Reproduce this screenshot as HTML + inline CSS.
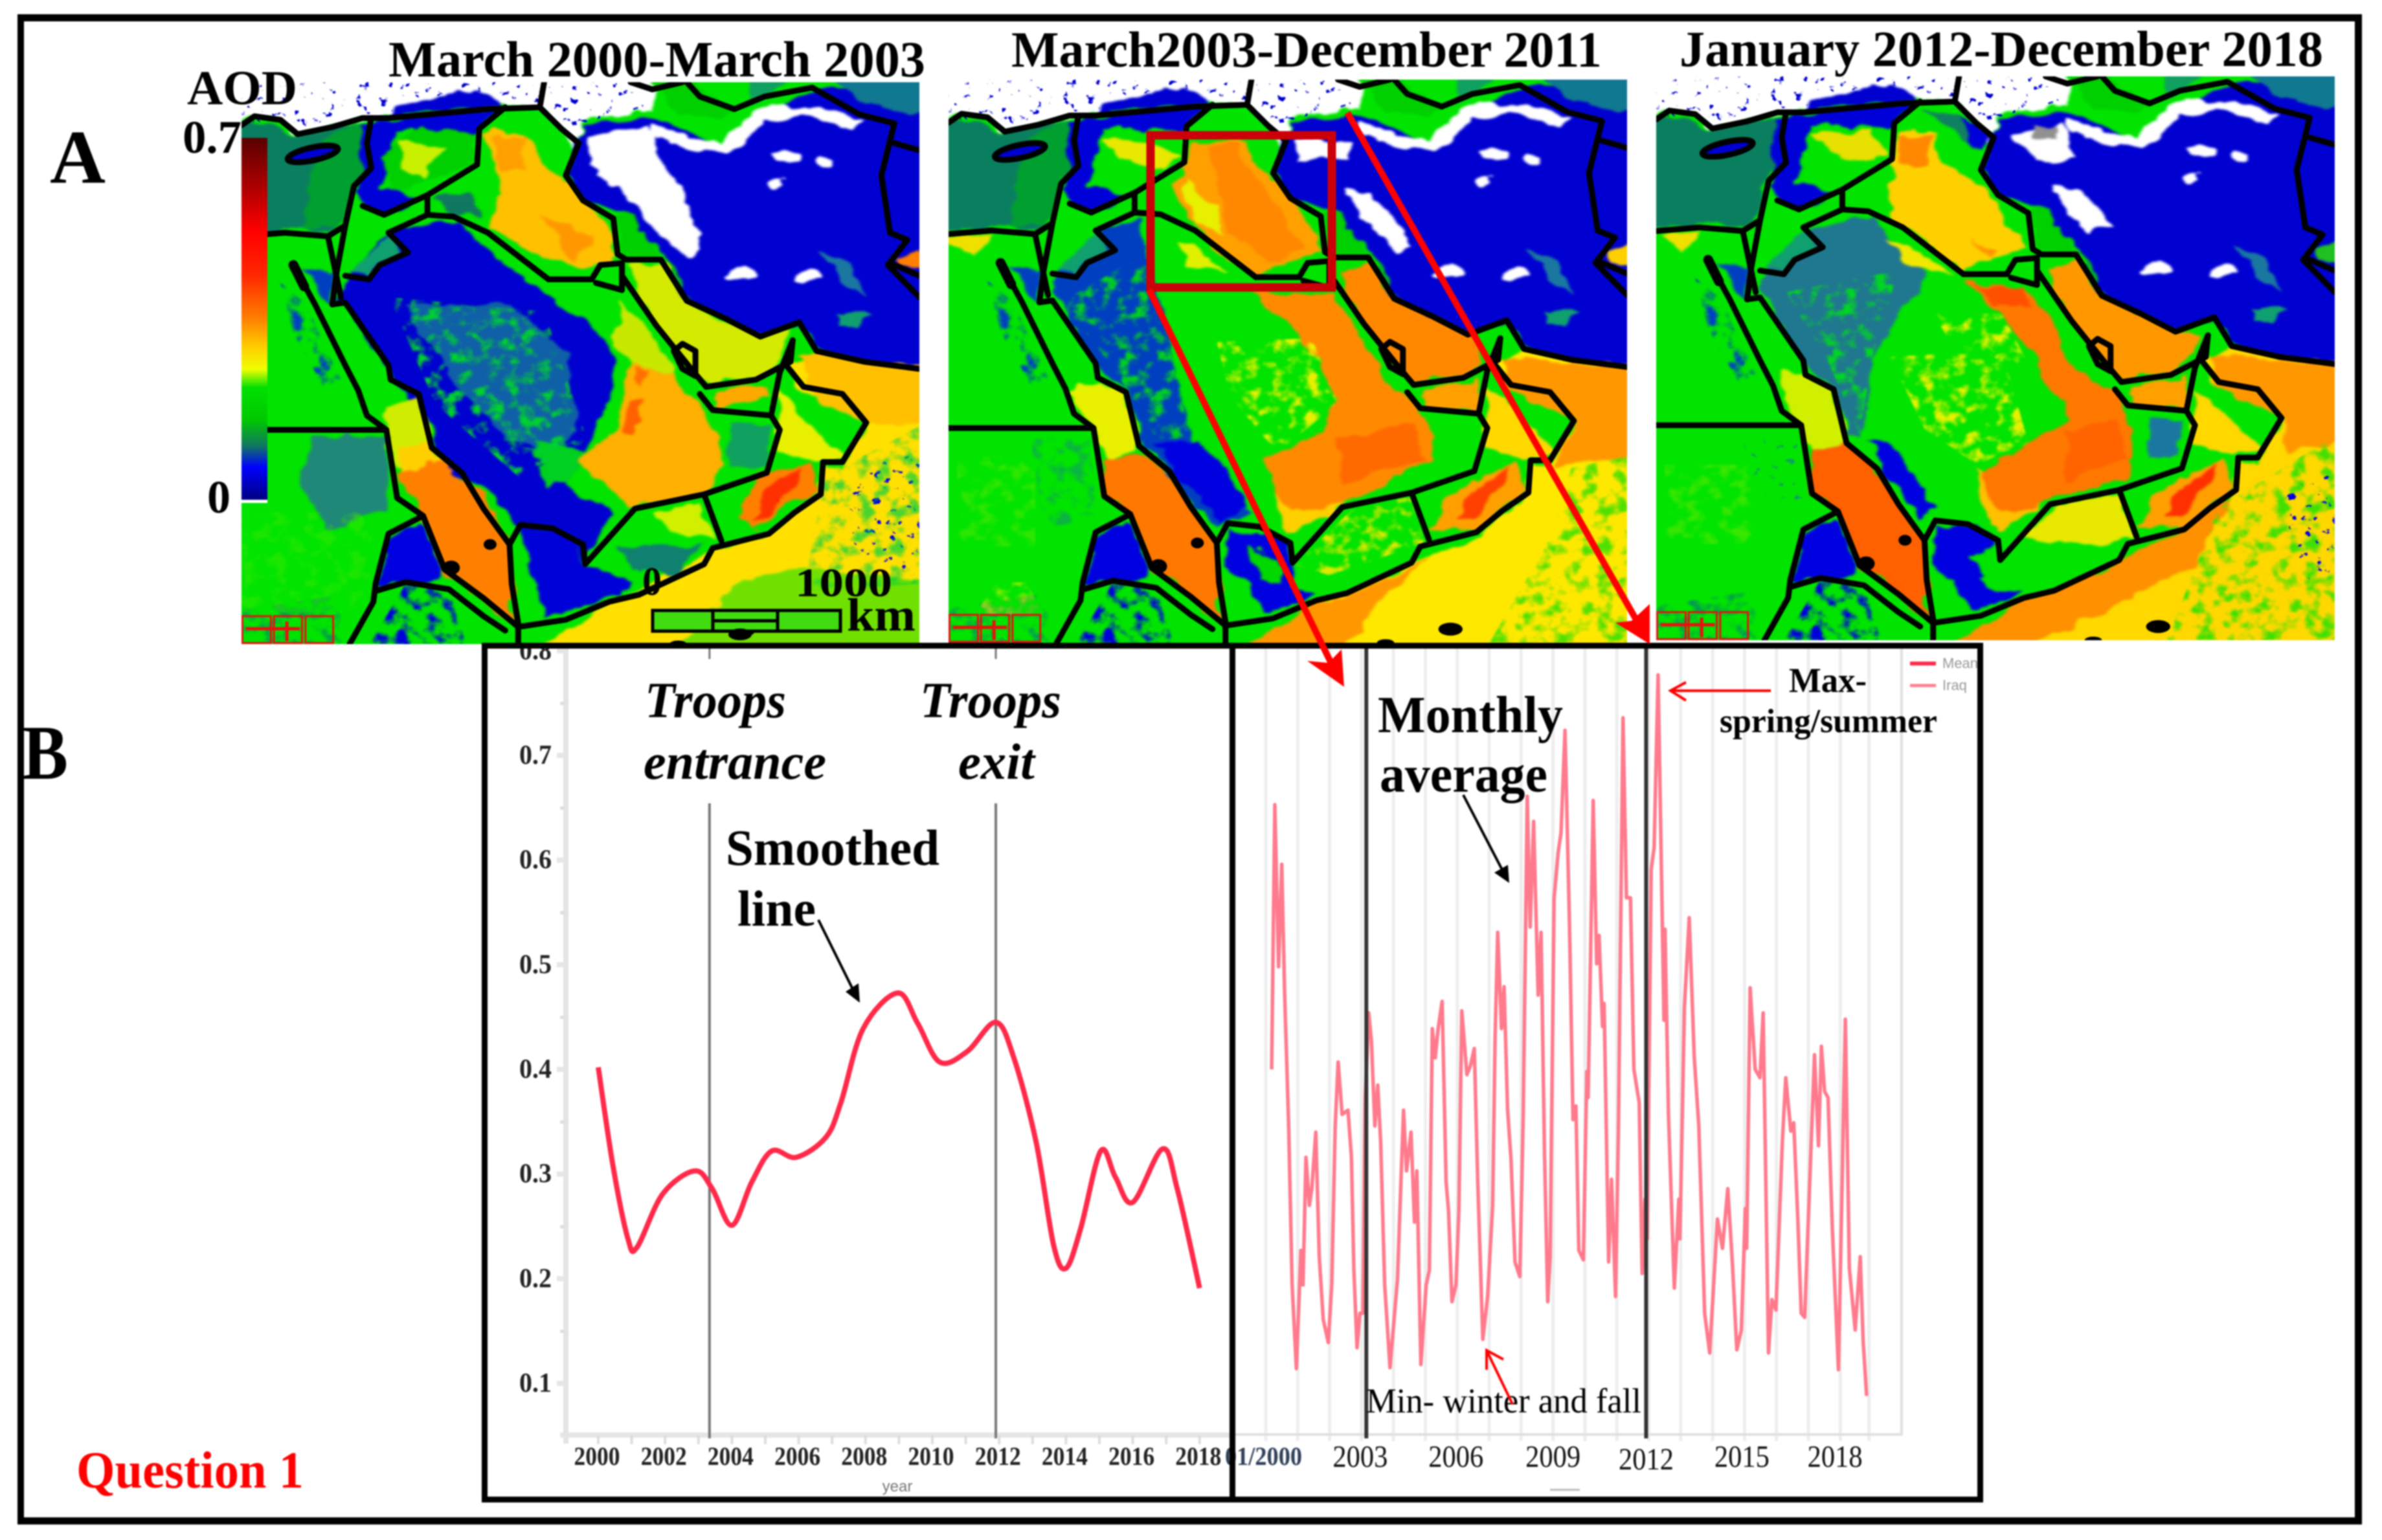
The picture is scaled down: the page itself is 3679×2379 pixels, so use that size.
<!DOCTYPE html>
<html>
<head>
<meta charset="utf-8">
<title>AOD maps and time series</title>
<style>
html,body{margin:0;padding:0;background:#fff;}
svg#fig{display:block;filter:blur(1px);}
text{font-family:"Liberation Serif",serif;}
</style>
</head>
<body>
<svg id="fig" xmlns="http://www.w3.org/2000/svg" width="3679" height="2379" viewBox="0 0 3679 2379">
<defs>
  <filter id="organic" x="-5%" y="-5%" width="110%" height="110%" color-interpolation-filters="sRGB">
    <feTurbulence type="fractalNoise" baseFrequency=".016" numOctaves="3" seed="3" result="n"/>
    <feDisplacementMap in="SourceGraphic" in2="n" scale="42" xChannelSelector="R" yChannelSelector="G"/>
    <feGaussianBlur stdDeviation="3"/>
  </filter>
  <filter id="mottle" x="-5%" y="-5%" width="110%" height="110%" color-interpolation-filters="sRGB">
    <feTurbulence type="fractalNoise" baseFrequency=".028" numOctaves="3" seed="8" result="n"/>
    <feColorMatrix in="n" type="matrix" values="0 0 0 0 0  0 0 0 0 0  0 0 0 0 0  0 4 0 0 -1.9" result="mask"/>
    <feComposite in="SourceGraphic" in2="mask" operator="in"/>
    <feGaussianBlur stdDeviation="2"/>
  </filter>
  <filter id="speck" x="-5%" y="-5%" width="110%" height="110%" color-interpolation-filters="sRGB">
    <feTurbulence type="fractalNoise" baseFrequency=".05" numOctaves="3" seed="21" result="n"/>
    <feColorMatrix in="n" type="matrix" values="0 0 0 0 0  0 0 0 0 0  0 0 0 0 0  0 12 0 0 -8" result="mask"/>
    <feComposite in="SourceGraphic" in2="mask" operator="in"/>
  </filter>
  <linearGradient id="cbar" x1="0" y1="0" x2="0" y2="1">
    <stop offset="0" stop-color="#5a0000"/><stop offset=".14" stop-color="#b00000"/><stop offset=".26" stop-color="#ff0000"/>
    <stop offset=".38" stop-color="#ff2800"/><stop offset=".5" stop-color="#ff8000"/><stop offset=".58" stop-color="#ffd000"/>
    <stop offset=".64" stop-color="#f0ff00"/><stop offset=".69" stop-color="#00e000"/><stop offset=".78" stop-color="#00c800"/>
    <stop offset=".85" stop-color="#107860"/><stop offset=".91" stop-color="#0000ff"/><stop offset="1" stop-color="#000080"/>
  </linearGradient>

  <g id="map-base">
    <rect x="-60" y="-60" width="1700" height="1700" fill="#00e400"/>
    <polygon fill="#0a7f60" points="-40,130 60,110 130,150 210,130 280,110 285,230 240,310 225,400 200,420 100,415 -40,420"/>
    <polygon fill="#ffffff" points="-60,-60 950,-60 950,70 800,110 770,190 740,130 690,70 570,60 340,90 280,100 210,125 130,145 90,105 30,95 -60,130"/>
    <polygon fill="#0000d0" points="440,40 490,15 580,40 600,70 340,95 350,70"/>
    <polygon fill="#0000d8" points="280,110 600,75 545,130 360,140 320,300 420,320 320,370 270,340"/>
    <polygon fill="#0000d0" points="770,190 800,120 950,90 1030,140 1120,190 1210,100 1260,60 1330,20 1640,50 1640,810 1440,780 1330,750 1290,670 1200,710 1120,660 1030,610 960,470 890,370 790,330 750,260"/>
    <polygon fill="#00d000" points="860,370 900,370 960,480 1000,520 1040,610 970,495 890,490"/>
    <polygon fill="#00d000" points="930,-40 1040,-40 1070,40 1140,75 1100,100 1000,80"/>
    <polygon fill="#10a060" points="1170,-40 1320,-40 1210,40 1170,70"/>
    <polygon fill="#107890" points="1330,-40 1640,-40 1640,90 1440,60"/>
    <polygon fill="#ffffff" points="950,115 1040,160 1110,175 1170,100 1240,60 1330,70 1445,100 1400,125 1290,85 1220,110 1120,205 1040,188 950,150"/>
    <polygon fill="#1a78a0" points="1350,470 1400,500 1440,590 1390,560"/>
    <polygon fill="#10a070" points="1370,640 1470,650 1430,680 1380,680"/>
    <polygon fill="#0000e0" points="340,1270 410,1225 470,1380 390,1390 320,1400"/>
    <ellipse fill="#ffffff" cx="1260" cy="210" rx="30" ry="20"/>
    <ellipse fill="#ffffff" cx="1350" cy="225" rx="24" ry="12"/>
    <ellipse fill="#ffffff" cx="1240" cy="280" rx="14" ry="14"/>
    <ellipse fill="#ffffff" cx="1150" cy="535" rx="42" ry="15"/>
    <ellipse fill="#ffffff" cx="1310" cy="545" rx="32" ry="11"/>
  </g>

  <g id="map-mottle-common">
    <polygon fill="#0000d0" points="-40,-40 690,-40 690,55 340,85 130,130 -40,110" filter="url(#speck)"/>
    <polygon fill="#0000d0" points="720,-40 930,-40 930,70 800,110 750,130 700,60" filter="url(#speck)"/>
    <polygon fill="#0040c0" points="90,560 150,620 230,830 190,850 120,700" filter="url(#mottle)"/>
    <polygon fill="#0000d8" points="380,1400 480,1420 520,1568 360,1600 300,1560" filter="url(#mottle)"/>
    <polygon fill="#0030c8" points="-40,1480 230,1430 230,1600 -40,1600" filter="url(#mottle)" opacity=".4"/>
  </g>

  <g id="map-borders" fill="none" stroke="#000" stroke-width="9" stroke-linejoin="round" stroke-linecap="round">
    <polyline vector-effect="non-scaling-stroke" points="0,120 30,95 90,105 130,145 210,125 280,100 340,100 570,75 690,70 700,0"/>
    <polyline vector-effect="non-scaling-stroke" points="690,70 740,130 780,170 750,260 790,330 860,380 870,480 890,495 970,495 1030,610 1120,660 1200,710 1290,670 1330,750 1440,780 1568,800"/>
    <polyline vector-effect="non-scaling-stroke" points="1275,720 1270,780 1190,830 1075,850 1040,800 960,680 880,540"/>
    <polyline vector-effect="non-scaling-stroke" points="710,550 810,550 830,510 880,505 880,580 820,560"/>
    <polyline vector-effect="non-scaling-stroke" points="430,370 490,375 570,420 710,550"/>
    <polyline vector-effect="non-scaling-stroke" points="610,70 550,130 545,230 430,315 330,370 280,345"/>
    <polyline vector-effect="non-scaling-stroke" points="430,315 430,370 340,420 385,475 320,510 295,550 240,540"/>
    <polyline vector-effect="non-scaling-stroke" points="300,100 290,170 300,240 260,290 240,400 200,430 100,420 0,430"/>
    <polyline vector-effect="non-scaling-stroke" points="240,400 220,530 210,620"/>
    <polyline vector-effect="non-scaling-stroke" points="200,430 230,600"/>
    <polyline vector-effect="non-scaling-stroke" points="120,510 170,620 240,790 270,860 290,930 335,970 360,1160 420,1210 470,1360 560,1440 640,1520 640,1568"/>
    <polyline vector-effect="non-scaling-stroke" points="120,510 145,570" stroke-width="15"/>
    <polyline vector-effect="non-scaling-stroke" points="0,970 335,970"/>
    <polyline vector-effect="non-scaling-stroke" points="420,1210 340,1260 310,1400 305,1450 250,1568"/>
    <polyline vector-effect="non-scaling-stroke" points="310,1420 380,1395 480,1415 560,1490 610,1530"/>
    <polyline vector-effect="non-scaling-stroke" points="210,620 240,615 340,790 345,830 410,870 440,1020 510,1090 560,1190 620,1290 625,1400 640,1510"/>
    <polyline vector-effect="non-scaling-stroke" points="620,1290 645,1235 720,1245 790,1290 795,1345 910,1190 1070,1150 1215,1090 1245,970 1225,930 1090,915 1060,870"/>
    <polyline vector-effect="non-scaling-stroke" points="1070,1150 1110,1280"/>
    <polyline vector-effect="non-scaling-stroke" points="640,1520 750,1500 850,1450 920,1430 1070,1345 1090,1300 1220,1260 1280,1200 1340,1150 1345,1060 1390,1060 1445,950 1390,870 1300,850 1260,790"/>
    <polyline vector-effect="non-scaling-stroke" points="1225,930 1245,810 1275,720"/>
    <polyline vector-effect="non-scaling-stroke" points="1020,730 1050,750 1050,820 1020,800 1000,750 1020,730"/>
    <polyline vector-effect="non-scaling-stroke" points="1030,0 1060,40 1140,75 1210,40 1320,15 1430,90 1510,115 1480,260 1500,420 1540,440 1495,510 1568,600"/>
    <polyline vector-effect="non-scaling-stroke" points="1510,170 1568,190"/>
    <polyline vector-effect="non-scaling-stroke" points="1510,510 1568,540"/>
    <polyline vector-effect="non-scaling-stroke" points="900,0 950,20 1020,0"/>
    <ellipse vector-effect="non-scaling-stroke" cx="165" cy="200" rx="60" ry="18" transform="rotate(-15 165 200)" fill="#0000d0"/>
    <ellipse cx="575" cy="1290" rx="15" ry="15" fill="#000" stroke="none"/>
    <ellipse cx="485" cy="1355" rx="20" ry="20" fill="#000" stroke="none"/>
    <ellipse cx="1160" cy="1530" rx="28" ry="18" fill="#000" stroke="none"/>
    <ellipse cx="1010" cy="1568" rx="20" ry="10" fill="#000" stroke="none"/>
  </g>

  <g id="map-legend-grid" fill="none" stroke="#e81010" stroke-width="3">
    <rect vector-effect="non-scaling-stroke" x="2" y="1490" width="66" height="75"/>
    <rect vector-effect="non-scaling-stroke" x="75" y="1490" width="65" height="75"/>
    <rect vector-effect="non-scaling-stroke" x="148" y="1490" width="64" height="75"/>
    <line vector-effect="non-scaling-stroke" x1="10" y1="1525" x2="135" y2="1525" stroke-width="5"/>
    <line vector-effect="non-scaling-stroke" x1="105" y1="1505" x2="105" y2="1560" stroke-width="5"/>
  </g>
</defs>

<rect x="0" y="0" width="3679" height="2379" fill="#fff"/>

<g id="left-chart"></g>
<g id="right-chart"></g>

<!-- MAP 1 -->
<svg x="373" y="127" width="1047" height="868" viewBox="0 0 1568 1568" preserveAspectRatio="none">
  <g filter="url(#organic)">
    <use href="#map-base"/>
    <polygon fill="#00a030" points="200,150 280,110 285,240 225,400 150,420 150,300"/>
    <polygon fill="#ffffff" points="800,150 940,120 990,240 1070,470 1040,485 970,430 880,300 800,230"/>
    <polygon fill="#ff8000" points="1510,490 1568,460 1600,530 1510,510"/>
    <polygon fill="#0000d0" points="240,560 340,410 500,390 640,540 850,720 860,850 790,1050 750,1120 860,1200 790,1340 770,1270 640,1240 560,1130 470,1070 430,950 350,830 230,600"/>
    <polygon fill="#1060a8" points="380,620 620,620 760,760 770,980 720,1040 620,1000 500,850"/>
    <polygon fill="#00d020" points="680,1000 800,1030 760,1110 700,1130"/>
    <polygon fill="#00d000" points="340,310 530,230 545,130 420,130 330,200"/>
    <polygon fill="#c8f000" points="370,170 470,185 420,270 370,240"/>
    <polygon fill="#ffc000" points="555,135 640,140 760,290 850,400 870,490 800,520 700,490 570,410 600,300 590,220"/>
    <polygon fill="#ffa000" points="580,150 650,150 660,250 600,240"/>
    <polygon fill="#ff9800" points="690,370 820,430 770,500"/>
    <polygon fill="#107860" points="440,320 540,310 560,380 480,370"/>
    <polygon fill="#c8e800" points="880,610 950,700 1000,810 900,800 860,730"/>
    <polygon fill="#d4ea00" points="890,510 980,510 1040,630 1200,710 1270,690 1240,790 1190,830 1080,840 1040,800 960,680"/>
    <polygon fill="#ffb000" points="900,800 1000,810 1060,900 1120,1020 1110,1090 1060,1150 900,1190 860,1150 780,1060 870,960"/>
    <polygon fill="#ff6000" points="900,880 930,880 910,980 885,970"/>
    <polygon fill="#ff7000" points="910,810 940,810 930,850"/>
    <polygon fill="#ffa800" points="1080,870 1210,850 1220,880 1090,900"/>
    <polygon fill="#10a060" points="1130,950 1230,950 1210,1080 1130,1080"/>
    <polygon fill="#ffe000" points="650,1600 880,1440 1090,1310 1240,1240 1340,1150 1350,1070 1390,1070 1450,950 1300,860 1260,790 1320,770 1640,800 1640,1600"/>
    <polygon fill="#ffc000" points="1290,760 1640,800 1640,960 1440,950 1330,880"/>
    <polygon fill="#70e000" points="1150,1400 1280,1350 1640,1400 1640,1640 950,1640"/>
    <polygon fill="#e8f000" points="1240,840 1300,950 1400,1050 1340,1060 1240,1020"/>
    <polygon fill="#ff8000" points="1140,1210 1200,1100 1320,1060 1340,1150 1240,1190 1190,1250"/>
    <polygon fill="#ff3000" points="1180,1230 1220,1120 1290,1080 1280,1130 1210,1210"/>
    <polygon fill="#d0f000" points="960,1200 1060,1170 1090,1280 1000,1260"/>
    <polygon fill="#108070" points="870,1290 1060,1290 1000,1380 900,1360"/>
    <polygon fill="#0000d8" points="640,1240 770,1270 790,1350 900,1390 880,1430 700,1500 670,1340"/>
    <polygon fill="#d0ec00" points="340,900 415,890 440,1040 360,1080 330,970"/>
    <polygon fill="#ffd000" points="360,1020 440,1000 460,1060 370,1090"/>
    <polygon fill="#ff8000" points="360,1090 460,1050 560,1150 620,1290 630,1510 470,1370 410,1200"/>
    <polygon fill="#208878" points="170,990 340,990 340,1200 200,1250 130,1100"/>
    <polygon fill="#0040c0" points="130,520 215,530 210,620 170,570"/>
    <polygon fill="#10a070" points="250,540 340,420 385,475 320,510 295,550"/>
  </g>
  <g>
    <use href="#map-mottle-common"/>
    <polygon fill="#00d030" points="340,600 700,640 800,1000 640,1100 450,900" filter="url(#mottle)"/>
    <polygon fill="#0000e0" points="1400,1120 1568,1000 1568,1380 1420,1320" filter="url(#speck)"/>
    <polygon fill="#00d040" points="1350,1100 1568,960 1568,1400 1300,1420" filter="url(#mottle)" opacity=".7"/>
    <polygon fill="#30e800" points="0,1200 300,1200 300,1480 0,1480" filter="url(#mottle)" opacity=".6"/>
  </g>
  <use href="#map-borders"/>
  <use href="#map-legend-grid"/>
</svg>

<!-- MAP 2 -->
<svg x="1465" y="123" width="1048" height="870" viewBox="0 0 1568 1568" preserveAspectRatio="none">
  <g filter="url(#organic)">
    <use href="#map-base"/>
    <polygon fill="#00a030" points="200,150 280,110 285,240 225,400 150,420 150,300"/>
    <polygon fill="#ffffff" points="910,300 980,320 1080,470 1040,480 960,390"/>
    <polygon fill="#ffffff" points="800,170 930,170 930,220 800,230"/>
    <polygon fill="#ffd000" points="1520,470 1568,450 1600,530 1520,510"/>
    <polygon fill="#f0e000" points="-40,440 100,430 60,500"/>
    <polygon fill="#0040c0" points="240,560 340,420 440,390 480,570 560,1000 700,1210 620,1240 560,1180 500,1070 440,1000 420,870 340,800"/>
    <polygon fill="#0000e0" points="480,1010 600,1010 690,1190 630,1230 540,1120"/>
    <polygon fill="#e8e800" points="360,175 450,170 530,210 500,250 400,220"/>
    <polygon fill="#ffa000" points="560,170 680,170 750,280 800,340 870,480 810,500 720,550 600,470 520,300 545,240"/>
    <polygon fill="#ff8800" points="600,180 660,180 730,300 820,470 740,520 640,400"/>
    <polygon fill="#e8f000" points="540,280 620,350 640,430 570,400"/>
    <polygon fill="#e0f000" points="530,450 560,450 640,540 560,520"/>
    <polygon fill="#ffd000" points="740,1080 920,1180 780,1270 760,1150"/>
    <polygon fill="#ff8a00" points="700,590 900,600 1000,820 1080,900 1130,1020 1120,1060 920,1180 800,1200 760,1150 730,1060 860,980 900,880 800,700"/>
    <polygon fill="#ff6a00" points="900,1000 1080,950 1110,1060 900,1130"/>
    <polygon fill="#ff8800" points="900,530 970,510 1030,610 1120,660 1210,720 1230,790 1190,830 1075,840 1030,790 960,680"/>
    <polygon fill="#ffa000" points="1080,870 1200,850 1230,830 1220,920 1100,910"/>
    <polygon fill="#ffd800" points="1240,850 1300,900 1400,1040 1340,1060 1240,1010"/>
    <polygon fill="#ffa000" points="1110,1260 1150,1160 1310,1060 1340,1150 1220,1250 1180,1250"/>
    <polygon fill="#ff4000" points="1170,1230 1200,1160 1290,1080 1280,1130 1210,1220"/>
    <polygon fill="#0000e0" points="650,1250 790,1290 795,1400 850,1440 730,1490 690,1400 640,1350"/>
    <polygon fill="#00d800" points="690,1300 760,1330 770,1400 730,1400"/>
    <polygon fill="#e8f000" points="280,870 350,840 410,880 440,1030 370,1060 330,970"/>
    <polygon fill="#ff7800" points="360,1060 440,1040 510,1090 560,1190 620,1300 630,1510 470,1360 420,1210 360,1160"/>
    <polygon fill="#ffe800" points="650,1600 850,1460 1070,1350 1220,1270 1340,1160 1350,1070 1390,1070 1450,950 1300,860 1260,790 1330,760 1640,810 1640,1600"/>
    <polygon fill="#ff9800" points="1280,780 1640,810 1640,1050 1400,1070 1450,950 1300,860"/>
    <polygon fill="#ff9800" points="650,1600 850,1460 930,1430 1100,1340 1000,1450 900,1600"/>
    <polygon fill="#10a070" points="250,540 340,420 385,475 320,510 295,550"/>
    <polygon fill="#0040c0" points="130,520 215,530 210,620 170,570"/>
  </g>
  <g>
    <use href="#map-mottle-common"/>
    <polygon fill="#00d020" points="260,620 460,480 560,1000 480,1000 380,800" filter="url(#mottle)"/>
    <polygon fill="#e8f000" points="620,730 840,720 900,900 760,1040 650,880" filter="url(#mottle)"/>
    <polygon fill="#e0e800" points="930,1200 1070,1160 1100,1290 880,1380 800,1350" filter="url(#mottle)"/>
    <polygon fill="#50e000" points="1440,1080 1568,1050 1568,1568 1250,1568 1380,1300" filter="url(#mottle)"/>
    <polygon fill="#50e800" points="20,1050 200,1050 200,1300 20,1300" filter="url(#mottle)" opacity=".6"/>
    <polygon fill="#10a060" points="190,1000 330,1000 340,1220 220,1250" filter="url(#mottle)" opacity=".7"/>
    <polygon fill="#e8f000" points="110,1400 180,1400 220,1490 60,1490" filter="url(#mottle)" opacity=".6"/>
  </g>
  <use href="#map-borders"/>
  <use href="#map-legend-grid"/>
</svg>

<!-- MAP 3 -->
<svg x="2558" y="118" width="1048" height="871" viewBox="0 0 1568 1568" preserveAspectRatio="none">
  <g filter="url(#organic)">
    <use href="#map-base"/>
    <polygon fill="#ffffff" points="820,170 940,130 980,230 870,240"/>
    <polygon fill="#ffffff" points="910,300 990,320 1050,420 1000,440 940,360"/>
    <polygon fill="#909090" points="870,140 920,140 920,170 870,170"/>
    <polygon fill="#20c020" points="1520,470 1568,450 1600,530 1520,510"/>
    <polygon fill="#f0e000" points="20,440 100,430 60,500"/>
    <polygon fill="#108060" points="620,90 700,110 740,200 660,130"/>
    <polygon fill="#0000d8" points="700,110 780,170 750,200 720,180"/>
    <polygon fill="#207890" points="240,570 340,430 500,390 620,560 500,780 480,1000 440,1000 420,880 340,800"/>
    <polygon fill="#0000e0" points="490,1010 560,1030 640,1200 610,1230 540,1120"/>
    <polygon fill="#e8e000" points="360,170 500,140 530,220 440,230"/>
    <polygon fill="#ffd000" points="560,150 640,150 660,240 750,300 860,480 800,500 710,540 550,410 540,240"/>
    <polygon fill="#ff8800" points="560,160 640,160 630,250 560,240"/>
    <polygon fill="#ff9800" points="720,450 800,480 780,500"/>
    <polygon fill="#f0e800" points="530,450 580,470 690,550 600,540"/>
    <polygon fill="#ffc000" points="740,1090 900,1180 790,1270 750,1180"/>
    <polygon fill="#ff7800" points="710,570 850,590 900,650 950,800 1070,880 1110,1020 1100,1110 910,1180 800,1220 750,1100 820,1050 960,950 840,720"/>
    <polygon fill="#ff5000" points="730,580 850,590 860,640 780,640"/>
    <polygon fill="#ff6400" points="950,980 1070,950 1100,1060 950,1130"/>
    <polygon fill="#ff9800" points="900,530 970,510 1030,610 1120,660 1210,720 1260,730 1190,830 1075,840 1030,790 960,680"/>
    <polygon fill="#ffa000" points="1080,870 1200,850 1230,830 1220,920 1100,910"/>
    <polygon fill="#ffd800" points="1240,880 1300,920 1400,1040 1340,1050 1240,1010"/>
    <polygon fill="#ffa000" points="1110,1260 1150,1160 1310,1060 1340,1150 1220,1250 1180,1250"/>
    <polygon fill="#ff3000" points="1170,1230 1200,1160 1290,1080 1280,1130 1210,1220"/>
    <polygon fill="#e8e800" points="930,1190 1070,1160 1100,1290 990,1300 850,1280"/>
    <polygon fill="#0000e0" points="650,1250 740,1250 790,1300 730,1330 770,1420 850,1440 730,1490 680,1400 640,1350"/>
    <polygon fill="#d0f000" points="290,820 350,830 410,880 440,1020 360,1040 310,940"/>
    <polygon fill="#ff6000" points="360,1040 440,1020 510,1090 560,1190 620,1300 630,1510 470,1360 420,1210 360,1160"/>
    <polygon fill="#ffd800" points="650,1600 850,1460 1070,1350 1220,1270 1340,1160 1350,1070 1390,1070 1450,950 1300,860 1260,790 1330,760 1640,810 1640,1600"/>
    <polygon fill="#ff9800" points="1280,780 1640,810 1640,1000 1450,1050 1450,950 1300,860"/>
    <polygon fill="#ff9000" points="650,1600 850,1460 1070,1350 1330,1170 1250,1360 900,1560 800,1600"/>
    <polygon fill="#10a070" points="250,540 340,420 385,475 320,510 295,550"/>
    <polygon fill="#0040c0" points="130,520 215,530 210,620 170,570"/>
    <polygon fill="#1a78a0" points="1140,950 1220,950 1200,1060 1140,1060"/>
  </g>
  <g>
    <use href="#map-mottle-common"/>
    <polygon fill="#00d820" points="300,600 560,540 500,780 470,1000 400,800" filter="url(#mottle)"/>
    <polygon fill="#e8f000" points="540,780 800,760 860,1020 740,1080 620,980" filter="url(#mottle)"/>
    <polygon fill="#e8f000" points="640,660 800,660 860,800 700,780" filter="url(#mottle)"/>
    <polygon fill="#40e000" points="1300,1200 1568,1000 1568,1568 1180,1568" filter="url(#mottle)"/>
    <polygon fill="#0000e0" points="1450,1150 1568,1100 1568,1400 1480,1400" filter="url(#speck)"/>
    <polygon fill="#60e800" points="20,1080 220,1080 220,1300 20,1300" filter="url(#mottle)" opacity=".6"/>
    <polygon fill="#10a060" points="200,1010 330,1010 340,1200 230,1150" filter="url(#speck)"/>
  </g>
  <use href="#map-borders"/>
  <use href="#map-legend-grid"/>
</svg>

<!-- colour bar and map labels -->
<rect x="373" y="213" width="40" height="559" fill="url(#cbar)"/>
<rect x="373" y="772" width="40" height="5" fill="#fff"/>
<g font-weight="bold" fill="#000">
  <text x="77" y="282" font-size="118" textLength="86" lengthAdjust="spacingAndGlyphs">A</text>
  <text x="35" y="1203" font-size="120" textLength="70" lengthAdjust="spacingAndGlyphs">B</text>
  <text x="289" y="161" font-size="75" textLength="170" lengthAdjust="spacingAndGlyphs">AOD</text>
  <text x="282" y="236" font-size="72" textLength="91" lengthAdjust="spacingAndGlyphs">0.7</text>
  <text x="320" y="792" font-size="72" textLength="36" lengthAdjust="spacingAndGlyphs">0</text>
  <text x="600" y="118" font-size="78" textLength="829" lengthAdjust="spacingAndGlyphs">March 2000-March 2003</text>
  <text x="1562" y="103" font-size="78" textLength="912" lengthAdjust="spacingAndGlyphs">March2003-December 2011</text>
  <text x="2594" y="102" font-size="78" textLength="994" lengthAdjust="spacingAndGlyphs">January 2012-December 2018</text>
</g>

<!-- scale bar -->
<g>
  <rect x="1008" y="943" width="290" height="32" fill="#40dc10" stroke="#000" stroke-width="5"/>
  <line x1="1101" y1="943" x2="1101" y2="975" stroke="#000" stroke-width="5"/>
  <line x1="1201" y1="943" x2="1201" y2="975" stroke="#000" stroke-width="5"/>
  <line x1="1101" y1="959" x2="1201" y2="959" stroke="#000" stroke-width="5"/>
  <ellipse cx="1143" cy="980" rx="18" ry="9" fill="#000"/>
  <text x="992" y="919" font-size="62" font-weight="bold" textLength="30" lengthAdjust="spacingAndGlyphs">0</text>
  <text x="1228" y="921" font-size="62" font-weight="bold" textLength="150" lengthAdjust="spacingAndGlyphs">1000</text>
  <text x="1308" y="974" font-size="72" font-weight="bold" textLength="106" lengthAdjust="spacingAndGlyphs">km</text>
</g>

<!-- region box and big arrows -->
<rect x="1777" y="209" width="280" height="235" fill="none" stroke="#cc0008" stroke-width="13"/>

<!-- frames -->
<g fill="#000">
  <rect x="27" y="22" width="3621" height="11"/>
  <rect x="27" y="2344" width="3621" height="11"/>
  <rect x="27" y="22" width="10" height="2333"/>
  <rect x="3637" y="22" width="11" height="2333"/>
  <rect x="744" y="993" width="2319" height="9"/>
  <rect x="744" y="2312" width="2319" height="9"/>
  <rect x="744" y="993" width="9" height="1328"/>
  <rect x="1899" y="993" width="9" height="1328"/>
  <rect x="3054" y="993" width="9" height="1328"/>
</g>

<g>
  <line x1="1775" y1="448" x2="2066" y2="1045" stroke="#f00" stroke-width="10"/>
  <polygon points="2076,1061 2019,1021 2052,1024 2072,1003" fill="#f00"/>
</g>
<g>
  <line x1="2081" y1="174" x2="2540" y2="980" stroke="#f00" stroke-width="10"/>
  <polygon points="2548,995 2495,962 2520,959 2548,933" fill="#f00"/>
</g>

<!-- chart annotations -->
<g font-weight="bold" font-style="italic" fill="#000">
  <text x="996" y="1108" font-size="78" textLength="218" lengthAdjust="spacingAndGlyphs">Troops</text>
  <text x="994" y="1203" font-size="78" textLength="282" lengthAdjust="spacingAndGlyphs">entrance</text>
  <text x="1421" y="1108" font-size="78" textLength="218" lengthAdjust="spacingAndGlyphs">Troops</text>
  <text x="1480" y="1203" font-size="78" textLength="118" lengthAdjust="spacingAndGlyphs">exit</text>
</g>
<g font-weight="bold" fill="#000">
  <text x="1121" y="1336" font-size="78" textLength="330" lengthAdjust="spacingAndGlyphs">Smoothed</text>
  <text x="1139" y="1430" font-size="78" textLength="121" lengthAdjust="spacingAndGlyphs">line</text>
  <text x="2128" y="1131" font-size="80" textLength="286" lengthAdjust="spacingAndGlyphs">Monthly</text>
  <text x="2131" y="1223" font-size="80" textLength="259" lengthAdjust="spacingAndGlyphs">average</text>
  <text x="2763" y="1069" font-size="54" textLength="120" lengthAdjust="spacingAndGlyphs">Max-</text>
  <text x="2656" y="1131" font-size="52" textLength="336" lengthAdjust="spacingAndGlyphs">spring/summer</text>
  <text x="118" y="2298" font-size="80" fill="#ff0000" textLength="351" lengthAdjust="spacingAndGlyphs">Question 1</text>
</g>
<text x="2110" y="2182" font-size="54" fill="#000" textLength="425" lengthAdjust="spacingAndGlyphs">Min- winter and fall</text>

<g>
  <line x1="1264" y1="1421" x2="1322" y2="1538" stroke="#000" stroke-width="4"/>
  <polygon points="1328,1549 1306,1532 1326,1519" fill="#000"/>
</g>
<g>
  <line x1="2260" y1="1228" x2="2325" y2="1353" stroke="#000" stroke-width="4"/>
  <polygon points="2331,1364 2308,1348 2329,1336" fill="#000"/>
</g>
<g fill="none" stroke="#f00" stroke-width="4">
  <line x1="2735" y1="1067" x2="2580" y2="1067"/>
  <polyline points="2604,1054 2580,1067 2604,1082"/>
</g>
<g fill="none" stroke="#f00" stroke-width="4">
  <line x1="2336" y1="2169" x2="2296" y2="2086"/>
  <polyline points="2322,2100 2296,2086 2296,2116"/>
</g>

<g>
  <line x1="2950" y1="1025" x2="2990" y2="1025" stroke="#ff2a4a" stroke-width="6"/>
  <text x="3000" y="1032" font-size="22" fill="#999" style='font-family:"Liberation Sans",sans-serif'>Mean</text>
  <line x1="2950" y1="1059" x2="2990" y2="1059" stroke="#ff8090" stroke-width="5"/>
  <text x="3000" y="1066" font-size="22" fill="#999" style='font-family:"Liberation Sans",sans-serif'>Iraq</text>
</g>

<script>
// ----- smoothed chart data -----
const smoothYears = [2000,2000.44,2000.89,2001.16,2001.93,2002.89,2003.41,2004,2004.59,2005.19,2005.93,2006.81,2007.26,2007.93,2008.96,2009.56,2010.22,2011.04,2011.9,2012.44,2013.11,2013.63,2014,2014.44,2015.04,2015.48,2016,2016.89,2017.33,2018];
const smoothValues = [0.402,0.308,0.238,0.230,0.281,0.303,0.286,0.251,0.292,0.322,0.316,0.335,0.368,0.439,0.473,0.444,0.407,0.417,0.445,0.411,0.330,0.232,0.210,0.248,0.322,0.297,0.273,0.324,0.286,0.191];
const eventYears = [2003.33,2011.9];
const yTickLabels = ['0.1','0.2','0.3','0.4','0.5','0.6','0.7','0.8'];
const yMinorTicks = [0.15,0.25,0.35,0.45,0.55,0.65,0.75];
const leftYearLabels = ['2000','2002','2004','2006','2008','2010','2012','2014','2016','2018'];

// ----- monthly chart data -----
const monthlyMonths = [2.2,3.4,4.8,6.0,7.1,8.6,9.9,11.5,13.2,14.0,15.1,16.4,17.3,18.8,20.1,21.6,23.5,24.8,26.1,27.2,28.7,30.9,32.2,33.1,34.3,35.4,36.5,37.4,38.7,39.7,41.0,42.1,43.2,44.7,46.7,49.5,50.8,51.8,52.9,54.6,55.9,56.8,58.3,60.3,61.5,62.6,63.7,64.8,66.3,67.8,68.7,70.0,71.5,72.6,73.7,75.6,76.9,78.4,79.7,81.6,83.4,85.3,86.2,87.2,88.6,89.6,90.9,92.2,93.7,95.5,96.8,98.3,99.4,100.7,102.4,103.5,104.8,106.0,106.9,108.4,109.9,111.0,112.5,114.2,115.5,116.6,117.7,119.4,120.7,121.2,123.1,124.4,125.3,126.6,127.2,128.9,130.0,131.5,132.6,134.3,135.6,137.1,138.4,140.4,141.5,142.6,143.4,144.9,146.0,147.5,149.7,150.1,151.4,153.6,155.3,155.7,157.4,159.2,161.1,162.8,165.0,166.9,169.8,171.7,173.7,175.4,177.1,178.8,180.3,180.8,182.1,184.0,185.8,187.0,189.0,190.3,191.8,194.2,195.5,197.4,198.5,200.0,201.3,202.6,204.5,206.3,207.8,208.9,210.1,211.4,213.0,215.3,217.9,219.4,221.6,223.5,224.6,225.9];
const monthlyValues = [0.400,0.653,0.498,0.596,0.471,0.346,0.194,0.114,0.227,0.194,0.316,0.270,0.286,0.340,0.221,0.161,0.139,0.194,0.346,0.407,0.357,0.361,0.316,0.210,0.134,0.167,0.167,0.373,0.454,0.428,0.346,0.385,0.330,0.194,0.115,0.199,0.292,0.361,0.303,0.340,0.254,0.303,0.118,0.194,0.208,0.439,0.411,0.439,0.465,0.292,0.265,0.178,0.194,0.265,0.456,0.395,0.403,0.420,0.292,0.142,0.183,0.270,0.428,0.531,0.439,0.479,0.362,0.314,0.216,0.202,0.357,0.661,0.536,0.637,0.471,0.531,0.319,0.178,0.221,0.564,0.607,0.626,0.724,0.536,0.352,0.365,0.227,0.218,0.398,0.373,0.657,0.501,0.528,0.441,0.463,0.216,0.295,0.183,0.346,0.736,0.564,0.564,0.400,0.368,0.205,0.276,0.238,0.591,0.612,0.777,0.447,0.534,0.357,0.191,0.276,0.238,0.460,0.545,0.411,0.346,0.167,0.129,0.257,0.229,0.286,0.216,0.132,0.151,0.267,0.229,0.478,0.400,0.392,0.454,0.129,0.180,0.170,0.330,0.392,0.341,0.349,0.259,0.167,0.163,0.292,0.414,0.327,0.422,0.379,0.373,0.248,0.113,0.448,0.210,0.151,0.221,0.140,0.088];
const monthlyEventMonths = [37.8,143];
const monthlyYearLabels = ['2003','2006','2009','2012','2015','2018'];
const monthlyLabelMonths = [35.5,71.5,108,143,179,214];
const gridYearCount = [0,1,2,3,4,5,6,7,8,9,10,11,12,13,14,15,16,17,18,18.9];

const NS = 'http://www.w3.org/2000/svg';

// shared value axis for both charts
function yScale(v){ return 2137 - (v - 0.1) * 1616.7; }
function xYear(t){ return 924 + (t - 2000) * 51.6; }
function xMonth(m){ return 1955 + m * 4.108; }

function make(parent, tag, attrs, txt){
  const el = document.createElementNS(NS, tag);
  for (const k in attrs) el.setAttribute(k, attrs[k]);
  if (txt !== undefined) el.textContent = txt;
  parent.appendChild(el);
  return el;
}
function smoothPath(xs, ys){
  let d = 'M' + xs[0] + ' ' + ys[0];
  for (let i = 0; i < xs.length - 1; i++){
    const i0 = Math.max(0, i - 1), i3 = Math.min(xs.length - 1, i + 2);
    const c1x = xs[i] + (xs[i+1] - xs[i0]) / 6, c1y = ys[i] + (ys[i+1] - ys[i0]) / 6;
    const c2x = xs[i+1] - (xs[i3] - xs[i]) / 6, c2y = ys[i+1] - (ys[i3] - ys[i]) / 6;
    d += ' C' + c1x + ' ' + c1y + ' ' + c2x + ' ' + c2y + ' ' + xs[i+1] + ' ' + ys[i+1];
  }
  return d;
}

// ----- left chart -----
const L = document.getElementById('left-chart');
const lAxisY = make(L, 'rect', {x:870, y:1002, width:8, height:1228, fill:'#e4e4e4'});


const lAxisX = make(L, 'rect', {x:865, y:2213, width:1034, height:8, fill:'#e6e6e6'});



yTickLabels.forEach(function(label){
  const v = parseFloat(label);
  make(L, 'rect', {x:860, y:yScale(v) - 4, width:14, height:8, fill:'#e6e6e6'});
  const t = make(L, 'text', {x:827, y:yScale(v) + 13, 'font-size':42, 'font-weight':'bold', fill:'#222', 'text-anchor':'middle', textLength:50, lengthAdjust:'spacingAndGlyphs'}, label);
  
  
});
yMinorTicks.forEach(function(v){
  make(L, 'rect', {x:865, y:yScale(v) - 2, width:7, height:5, fill:'#dedede'});
});
for (let yr = 2000; yr <= 2018; yr++){
  make(L, 'rect', {x:xYear(yr) - 2, y:2217, width:4, height:14, fill:'#ddd'});
}
leftYearLabels.forEach(function(label){
  const t = make(L, 'text', {x:xYear(+label) - 2, y:2263, 'font-size':40, 'font-weight':'bold', fill:'#222', 'text-anchor':'middle', textLength:71, lengthAdjust:'spacingAndGlyphs'}, label);
  
  
});
const yearTitle = make(L, 'text', {x:1386, y:2304, 'font-size':24, fill:'#777', 'text-anchor':'middle', style:'font-family:"Liberation Sans",sans-serif'}, 'year');


eventYears.forEach(function(t){
  const line = make(L, 'line', {x1:xYear(t), x2:xYear(t), y1:1241, y2:2222, stroke:'#777', 'stroke-width':4});
  
  
  make(L, 'line', {x1:xYear(t), x2:xYear(t), y1:1002, y2:1018, stroke:'#777', 'stroke-width':3});
});
const smoothLine = make(L, 'path', {d:smoothPath(smoothYears.map(xYear), smoothValues.map(yScale)), fill:'none', stroke:'#ff2a4a', 'stroke-width':8, 'stroke-linejoin':'round'});



// ----- right chart -----
const R = document.getElementById('right-chart');
gridYearCount.forEach(function(y){
  const g = make(R, 'line', {x1:xMonth(y * 12), x2:xMonth(y * 12), y1:1001, y2:2226, stroke:'#eeeeee', 'stroke-width':5});
  
  
});
const rAxisX = make(R, 'rect', {x:1908, y:2214, width:1031, height:4, fill:'#e0e0e0'});


const rRight = make(R, 'rect', {x:2935, y:1001, width:4, height:1215, fill:'#e0e0e0'});



const firstLabel = make(R, 'text', {x:1892, y:2263, 'font-size':40, 'font-weight':'bold', fill:'#30405a', textLength:119, lengthAdjust:'spacingAndGlyphs'}, '01/2000');


monthlyYearLabels.forEach(function(label, i){
  const m = monthlyLabelMonths[i];
  const t = make(R, 'text', {x:xMonth(m), y:label === '2012' ? 2270 : 2266, 'font-size':48, fill:'#111', 'text-anchor':'middle', textLength:85, lengthAdjust:'spacingAndGlyphs'}, label);
  
  
});
const rTitle = make(R, 'rect', {x:2394, y:2300, width:46, height:3, fill:'#bbb'});



const monthlyLine = make(R, 'polyline', {
  points: monthlyMonths.map(function(m, i){ return xMonth(m) + ',' + yScale(monthlyValues[i]); }).join(' '),
  fill:'none', stroke:'#ff7a8c', 'stroke-width':5.5, 'stroke-linejoin':'round'
});



monthlyEventMonths.forEach(function(m){
  const line = make(R, 'line', {x1:xMonth(m), x2:xMonth(m), y1:1001, y2:2222, stroke:'#333', 'stroke-width':6});
  
  
});
</script>
</svg>
</body>
</html>
